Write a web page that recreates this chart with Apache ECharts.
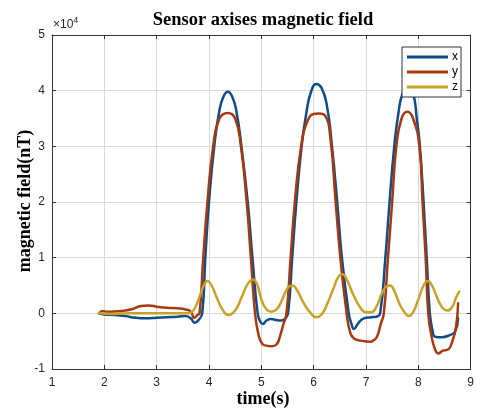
<!DOCTYPE html>
<html>
<head>
<meta charset="utf-8">
<script src="https://cdn.jsdelivr.net/npm/echarts@6/dist/echarts.min.js"></script>
<style>html,body{margin:0;padding:0;background:#fff}#c{width:477px;height:408px}</style>
</head>
<body>
<div id="c"></div>
<script>
const seriesNames = ['x', 'y', 'z'];
const xTicks = [1, 2, 3, 4, 5, 6, 7, 8, 9];
const yTicks = [-10000, 0, 10000, 20000, 30000, 40000, 50000];

const xField = [[1.9,0],[2.0,-200],[2.2,-300],[2.4,-500],[2.6,-800],[2.8,-900],[3.0,-800],[3.2,-700],[3.4,-600],[3.55,-500],[3.65,-900],[3.73,-1700],[3.8,-1200],[3.87,0],[3.93,10000],[4.0,20000],[4.1,30000],[4.2,36500],[4.28,39000],[4.36,39800],[4.44,39000],[4.52,36500],[4.62,30000],[4.74,20000],[4.83,10000],[4.93,0],[4.98,-1500],[5.03,-1900],[5.1,-1300],[5.18,-1000],[5.28,-1200],[5.38,-1300],[5.45,-1000],[5.51,0],[5.59,10000],[5.67,20000],[5.77,30000],[5.86,36000],[5.95,39800],[6.05,41200],[6.15,40500],[6.25,37500],[6.35,30000],[6.45,20000],[6.54,10000],[6.67,0],[6.72,-1800],[6.77,-2800],[6.85,-1800],[6.96,-900],[7.1,-700],[7.2,-600],[7.27,0],[7.37,10000],[7.45,20000],[7.54,30000],[7.62,36000],[7.7,39500],[7.8,40600],[7.9,39500],[7.97,35000],[8.03,30000],[8.1,20000],[8.16,10000],[8.22,0],[8.27,-3000],[8.32,-4200],[8.45,-4300],[8.6,-3900],[8.7,-3300],[8.76,-900]];

const yField = [[1.9,0],[1.97,400],[2.05,300],[2.2,350],[2.4,500],[2.55,800],[2.7,1300],[2.85,1400],[3.0,1200],[3.2,1000],[3.4,900],[3.55,700],[3.65,300],[3.72,-800],[3.78,-300],[3.82,0],[3.89,10000],[3.97,20000],[4.08,30000],[4.2,35000],[4.36,36000],[4.5,35000],[4.61,30000],[4.72,20000],[4.8,10000],[4.88,0],[4.95,-4000],[5.02,-5500],[5.1,-5800],[5.2,-5900],[5.29,-5600],[5.36,-4000],[5.42,-2000],[5.48,0],[5.56,10000],[5.64,20000],[5.76,30000],[5.88,34500],[6.0,35800],[6.1,35900],[6.22,35500],[6.32,31500],[6.42,20000],[6.51,10000],[6.63,0],[6.7,-3500],[6.77,-4500],[6.9,-4900],[7.08,-5100],[7.15,-4800],[7.21,-4200],[7.28,-2000],[7.34,0],[7.42,10000],[7.5,20000],[7.58,30000],[7.68,35000],[7.79,36200],[7.9,35000],[8.02,30000],[8.08,20000],[8.14,10000],[8.19,0],[8.25,-4000],[8.32,-6500],[8.38,-7200],[8.47,-6700],[8.57,-6500],[8.65,-5000],[8.72,-2500],[8.76,1800]];

const zField = [[1.9,0],[2.2,-100],[2.5,0],[3.0,0],[3.4,0],[3.6,0],[3.7,500],[3.8,2500],[3.9,5000],[3.97,5800],[4.05,5000],[4.15,2800],[4.25,800],[4.37,-300],[4.5,500],[4.62,2800],[4.74,5300],[4.84,6100],[4.92,5200],[5.0,2500],[5.1,700],[5.19,300],[5.3,800],[5.4,2500],[5.5,4500],[5.59,5000],[5.68,4200],[5.8,2000],[5.92,300],[6.05,-700],[6.15,-200],[6.25,1500],[6.38,4500],[6.47,6500],[6.55,7000],[6.62,6300],[6.75,3500],[6.88,1200],[7.0,200],[7.1,200],[7.2,1200],[7.3,3500],[7.4,4900],[7.46,5000],[7.55,3800],[7.65,1500],[7.75,0],[7.82,-500],[7.9,200],[8.0,2500],[8.1,5000],[8.18,5800],[8.26,5000],[8.36,2800],[8.46,1000],[8.56,500],[8.65,1200],[8.72,2800],[8.78,3900]];

const colors = ['#0f4c8a', '#a8380e', '#c9a125'];
const serif = '"Liberation Serif", "Times New Roman", serif';
const sans = '"Liberation Sans", Arial, sans-serif';

const chart = echarts.init(document.getElementById('c'), null, {renderer: 'canvas'});

const axisLineStyle = {color: '#333333', width: 1};
const baseX = {
  type: 'value', min: xTicks[0], max: xTicks[xTicks.length - 1], interval: 1,
  axisLine: {show: true, onZero: false, lineStyle: axisLineStyle},
  axisTick: {show: true, inside: true, length: 4, lineStyle: axisLineStyle}
};
const baseY = {
  type: 'value', min: yTicks[0], max: yTicks[yTicks.length - 1], interval: 10000,
  axisLine: {show: true, onZero: false, lineStyle: axisLineStyle},
  axisTick: {show: true, inside: true, length: 4, lineStyle: axisLineStyle}
};

function lineSeries(i, data) {
  return {name: seriesNames[i], type: 'line', data: data, showSymbol: false, smooth: 0.5,
    lineStyle: {width: 2.5, color: colors[i], cap: 'round', join: 'round'}, itemStyle: {color: colors[i]}};
}

chart.setOption({
  animation: false,
  backgroundColor: '#ffffff',
  color: colors,
  grid: {left: 52, right: 4, top: 35, bottom: 39, containLabel: false},
  xAxis: [
    Object.assign({}, baseX, {
      position: 'bottom',
      axisLabel: {show: true, margin: 8, fontFamily: sans, fontSize: 12, color: '#262626'},
      splitLine: {show: true, lineStyle: {color: '#d9d9d9', width: 1}}
    }),
    Object.assign({}, baseX, {
      position: 'top',
      axisLabel: {show: false},
      splitLine: {show: false}
    })
  ],
  yAxis: [
    Object.assign({}, baseY, {
      position: 'left',
      axisLabel: {show: true, margin: 7, fontFamily: sans, fontSize: 12, color: '#262626',
        formatter: v => String(v / 10000)},
      splitLine: {show: true, lineStyle: {color: '#d9d9d9', width: 1}}
    }),
    Object.assign({}, baseY, {
      position: 'right',
      axisLabel: {show: false},
      splitLine: {show: false}
    })
  ],
  legend: {
    show: true,
    orient: 'vertical',
    left: 402, top: 47,
    data: seriesNames,
    icon: 'rect',
    itemWidth: 41, itemHeight: 3,
    itemGap: 1,
    padding: [3, 3, 3, 5],
    backgroundColor: '#ffffff',
    borderColor: '#333333',
    borderWidth: 1,
    borderRadius: 0,
    textStyle: {fontFamily: sans, fontSize: 12, color: '#000000', lineHeight: 14, padding: [0, 0, 0, -1]}
  },
  graphic: [
    {type: 'text', x: 263, y: 20, z: 10,
      style: {text: 'Sensor axises magnetic field', font: 'bold 18.5px ' + serif, fill: '#000', textAlign: 'center', textVerticalAlign: 'middle'}},
    {type: 'text', x: 263, y: 399, z: 10,
      style: {text: 'time(s)', font: 'bold 18px ' + serif, fill: '#000', textAlign: 'center', textVerticalAlign: 'middle'}},
    {type: 'text', x: 25, y: 201, rotation: Math.PI / 2, z: 10,
      style: {text: 'magnetic field(nT)', font: 'bold 18px ' + serif, fill: '#000', textAlign: 'center', textVerticalAlign: 'middle'}},
    {type: 'text', x: 53, y: 33, z: 10,
      style: {text: '×10{s|4}', font: '12px ' + sans, fill: '#262626', textVerticalAlign: 'bottom',
        rich: {s: {fontSize: 9, fontFamily: sans, fill: '#262626', verticalAlign: 'top', padding: [0, 0, 8, 0]}}}}
  ],
  series: [lineSeries(0, xField), lineSeries(1, yField), lineSeries(2, zField)]
});
</script>
</body>
</html>
